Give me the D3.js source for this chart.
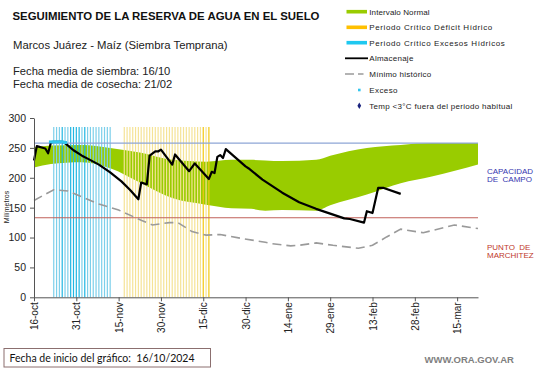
<!DOCTYPE html>
<html><head><meta charset="utf-8">
<script src="https://cdn.jsdelivr.net/npm/d3@7"></script>
<style>
html,body{margin:0;padding:0;background:#fff;}
svg{display:block;font-family:"Liberation Sans",Arial,sans-serif;}
</style></head>
<body>
<script>
// ---- data (days since 16-oct-2024) ----
const tickDays = [0,15,30,45,60,75,90,105,120,135,150];
const tickLabels = ["16-oct","31-oct","15-nov","30-nov","15-dic","30-dic","14-ene","29-ene","13-feb","28-feb","15-mar"];
const yTicks = [0,50,100,150,200,250,300];

const bandDays  = [0,6,17,27,38,49,61,70,77,82,88,100,105,118,130,141,157.4];
const bandUpper = [251,254,255,250,242,230,227,230,230,229,228,230,237,250,255,258,258];
const bandLower = [217,223,226,216,191,166,155,149,148,145,146,145,154,172,191,202,222];

const almDays   = [0,1,4,5,6,7,8,9,10,11,14,17,19,23,27,31,34,37,38,40,41,43,44,45,49,50,55,57,62,63,64,65,66,67,68,75,76,81,88,94,100,105,110,112,117,118,120,122,124,130];
const almValues = [229,253,249,241,259,260,260,260,260,258,246,237,232,222,209,194,180,164,192,189,237,244,244,247,222,239,211,224,198,210,208,235,238,233,248,219,216,197,175,159,148,140,132,131,125,144,141,183,183,173];

const minDays   = [0,7,12,23,30,38,42,48,51,56,61,66,73,82,84,91,94,100,106,115,120,125,130,138,149,157.4];
const minValues = [162,180,178,156,146,129,121,125,125,110,104,105,99,92,90,86,87,91,87,82,87,101,114,108,121,115];

const excesoDays   = [6,7,8,9,10,11];
const excesoValues = [260,260,260,260,260,259];

const excessBarDays   = [7,8,9,10,11,12,13,14,15,16,17,18,19,20,21,22,23,24,25,26,27];
const excessBarStrong = [0,0,0,1,0,0,1,1,1,1,0,1,0,0,0,0,0,0,0,0,0];
const deficitBarDays   = [32,33,34,35,36,37,38,39,40,41,42,43,44,45,46,47,48,49,50,51,52,53,54,55,56,57,58,59,60,61,62];
const deficitBarStrong = [0,0,0,0,0,0,0,0,0,0,0,0,0,0,0,0,0,0,0,0,0,0,0,0,0,0,0,0,1,0,1];
const barTop = 285;

const capacidadCampo = 258;
const puntoMarchitez = 133;
const xMaxDay = 157.4;

// ---- layout ----
const W = 541, H = 368;
const svg = d3.select("body").append("svg").attr("width", W).attr("height", H);
const x = d3.scaleLinear().domain([0, xMaxDay]).range([34, 478]);
const y = d3.scaleLinear().domain([0, 300]).range([297.3, 118]);

// green band
const band = bandDays.map((d,i)=>({d, u:bandUpper[i], l:bandLower[i]}));
svg.append("path").datum(band)
  .attr("fill","#99cc00")
  .attr("d", d3.area().x(p=>x(p.d)).y0(p=>y(p.l)).y1(p=>y(p.u)).curve(d3.curveMonotoneX));

// period bars
svg.append("g").selectAll("line").data(excessBarDays).join("line")
  .attr("x1", d=>x(d)).attr("x2", d=>x(d))
  .attr("y1", y(0)).attr("y2", y(barTop))
  .attr("stroke", (d,i)=>excessBarStrong[i] ? "#1fb6e2" : "#7ccfea")
  .attr("stroke-width", 1.2);
svg.append("g").selectAll("line").data(deficitBarDays).join("line")
  .attr("x1", d=>x(d)).attr("x2", d=>x(d))
  .attr("y1", y(0)).attr("y2", y(barTop))
  .attr("stroke", (d,i)=>deficitBarStrong[i] ? "#f2c812" : "#f5e396")
  .attr("stroke-width", 1.2);

// reference lines
svg.append("line").attr("x1", x(0)).attr("x2", x(xMaxDay))
  .attr("y1", y(capacidadCampo)).attr("y2", y(capacidadCampo))
  .attr("stroke","#8ea6d6").attr("stroke-width",1.3);
svg.append("line").attr("x1", x(0)).attr("x2", x(xMaxDay))
  .attr("y1", y(puntoMarchitez)).attr("y2", y(puntoMarchitez))
  .attr("stroke","#c0605a").attr("stroke-width",1.1);

// minimum historical
svg.append("path").datum(minDays.map((d,i)=>[d,minValues[i]]))
  .attr("fill","none").attr("stroke","#9a9a9a").attr("stroke-width",1.6)
  .attr("stroke-dasharray","9,5")
  .attr("d", d3.line().x(p=>x(p[0])).y(p=>y(p[1])));

// almacenaje
svg.append("path").datum(almDays.map((d,i)=>[d,almValues[i]]))
  .attr("fill","none").attr("stroke","#000").attr("stroke-width",2.2)
  .attr("stroke-linejoin","round")
  .attr("d", d3.line().x(p=>x(p[0])).y(p=>y(p[1])));

// exceso markers
svg.append("g").selectAll("rect").data(excesoDays).join("rect")
  .attr("x", d=>x(d)-2).attr("y",(d,i)=>y(excesoValues[i])-1.5)
  .attr("width",4).attr("height",3).attr("fill","#33c6ee");

// axes
const gx = svg.append("g").attr("transform",`translate(0,${y(0)})`)
  .call(d3.axisBottom(x).tickValues(tickDays).tickFormat((d,i)=>tickLabels[i]).tickSize(4).tickSizeOuter(0));
gx.select(".domain").attr("stroke","#555");
gx.selectAll(".tick line").attr("stroke","#555");
gx.selectAll(".tick text")
  .attr("transform","rotate(-90)")
  .attr("text-anchor","end").attr("x",-5).attr("y",0).attr("dy","0.35em")
  .attr("font-size","10px").attr("fill","#222")
  .attr("font-family","'Liberation Sans',Arial,sans-serif");

const gy = svg.append("g").attr("transform",`translate(${x(0)},0)`)
  .call(d3.axisLeft(y).tickValues(yTicks).tickSize(4).tickSizeOuter(0));
gy.select(".domain").attr("stroke","#555");
gy.selectAll(".tick line").attr("stroke","#555");
gy.selectAll(".tick text").attr("font-size","10.5px").attr("fill","#222").attr("x",-8)
  .attr("font-family","'Liberation Sans',Arial,sans-serif");

svg.append("text").attr("transform","translate(9,207) rotate(-90)")
  .attr("text-anchor","middle").attr("font-size","7px").attr("fill","#222").text("Milímetros");

// titles
svg.append("text").attr("x",12.5).attr("y",19.8).attr("font-size","11.4px").attr("font-weight","bold")
  .attr("fill","#111").text("SEGUIMIENTO DE LA RESERVA DE AGUA EN EL SUELO");
svg.append("text").attr("x",13).attr("y",49).attr("font-size","11.3px").attr("fill","#222")
  .text("Marcos Juárez - Maíz (Siembra Temprana)");
svg.append("text").attr("x",13).attr("y",75).attr("font-size","11.2px").attr("fill","#222")
  .text("Fecha media de siembra: 16/10");
svg.append("text").attr("x",13).attr("y",87.5).attr("font-size","11.2px").attr("fill","#222")
  .text("Fecha media de cosecha: 21/02");

// legend
const leg = svg.append("g").attr("font-size","8px").attr("fill","#222");
const ly = [11.7,27.3,42.7,58.3,74,90,105.7];
const legTexts = ["Intervalo Normal","Periodo Crítico Déficit Hídrico","Periodo Crítico Excesos Hídricos","Almacenaje","Mínimo histórico","Exceso","Temp <3°C fuera del periodo habitual"];
const legSpacing = [0.1,0.6,0.6,0.25,0.25,0.4,0.3];
leg.append("rect").attr("x",346.5).attr("y",ly[0]-1.8).attr("width",20.5).attr("height",3.6).attr("fill","#99cc00");
leg.append("rect").attr("x",346.5).attr("y",ly[1]-1.8).attr("width",20.5).attr("height",3.6).attr("fill","#ffc000");
leg.append("rect").attr("x",346.5).attr("y",ly[2]-1.8).attr("width",20.5).attr("height",3.6).attr("fill","#1ec8f0");
leg.append("line").attr("x1",345).attr("x2",368).attr("y1",ly[3]).attr("y2",ly[3]).attr("stroke","#000").attr("stroke-width",1.8);
leg.append("line").attr("x1",345).attr("x2",363.5).attr("y1",ly[4]).attr("y2",ly[4]).attr("stroke","#9a9a9a").attr("stroke-width",1.6).attr("stroke-dasharray","9,4,6");
leg.append("rect").attr("x",358).attr("y",ly[5]-1.3).attr("width",2.6).attr("height",2.6).attr("fill","#33c6ee");
leg.append("path").attr("d",d3.symbol(d3.symbolDiamond,12)()).attr("transform",`translate(359.3,${ly[6]})`).attr("fill","#1a237e");
legTexts.forEach((t,i)=>{
  leg.append("text").attr("x", 369.3).attr("y",ly[i]).attr("dy","0.35em")
    .attr("letter-spacing", legSpacing[i]).text(t);
});

// right labels
const rl = svg.append("g").attr("font-size","8px");
rl.append("text").attr("x",487).attr("y",173.5).attr("fill","#3636b0").text("CAPACIDAD");
rl.append("text").attr("x",487).attr("y",182).attr("fill","#3636b0").attr("xml:space","preserve").text("DE  CAMPO");
rl.append("text").attr("x",487).attr("y",249.5).attr("fill","#c0392b").attr("xml:space","preserve").text("PUNTO  DE");
rl.append("text").attr("x",487).attr("y",258).attr("fill","#c0392b").text("MARCHITEZ");

// footer
svg.append("rect").attr("x",4).attr("y",348.5).attr("width",206.5).attr("height",18.5)
  .attr("fill","#fff").attr("stroke","#8b6f6f").attr("stroke-width",1);
svg.append("text").attr("x",9.5).attr("y",358.3).attr("dy","0.35em").attr("font-size","10.5px")
  .attr("font-family","Lato,'Liberation Sans',sans-serif").attr("fill","#111")
  .attr("xml:space","preserve").text("Fecha de inicio del gráfico:  16/10/2024");
svg.append("text").attr("x",424.5).attr("y",360).attr("dy","0.35em").attr("font-size","9.5px")
  .attr("font-weight","bold").attr("fill","#808080").text("WWW.ORA.GOV.AR");
</script>
</body></html>
